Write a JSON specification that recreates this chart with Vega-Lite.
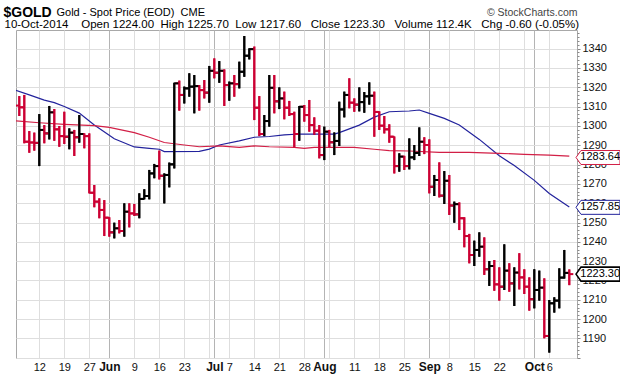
{
  "$schema": "https://vega.github.io/schema/vega-lite/v6.json",
  "width": 561,
  "height": 328,
  "autosize": {"type": "none"},
  "padding": {"left": 16, "top": 30, "right": 43, "bottom": 18},
  "background": "white",
  "config": {
    "font": "Liberation Sans",
    "view": {"stroke": "#a8a8a8", "strokeWidth": 1},
    "axis": {"labelFont": "Liberation Sans", "titleFont": "Liberation Sans"}
  },
  "datasets": {
    "bars": [
      {"d":"2014-05-06","i":-4,"o":1310.5,"h":1315.4,"l":1305.1,"c":1309.6},
      {"d":"2014-05-07","i":-3,"o":1309.6,"h":1316.0,"l":1291.0,"c":1291.8},
      {"d":"2014-05-08","i":-2,"o":1291.8,"h":1297.3,"l":1286.1,"c":1291.4},
      {"d":"2014-05-09","i":-1,"o":1291.4,"h":1296.5,"l":1287.2,"c":1291.2},
      {"d":"2014-05-12","i":0,"o":1291.2,"h":1306.1,"l":1279.2,"c":1297.9},
      {"d":"2014-05-13","i":1,"o":1297.9,"h":1300.4,"l":1291.0,"c":1296.1},
      {"d":"2014-05-14","i":2,"o":1296.1,"h":1310.3,"l":1293.0,"c":1307.0},
      {"d":"2014-05-15","i":3,"o":1307.0,"h":1308.7,"l":1292.3,"c":1298.2},
      {"d":"2014-05-16","i":4,"o":1298.2,"h":1299.9,"l":1289.2,"c":1294.7},
      {"d":"2014-05-19","i":5,"o":1294.7,"h":1307.3,"l":1290.6,"c":1294.4},
      {"d":"2014-05-20","i":6,"o":1294.4,"h":1298.7,"l":1287.9,"c":1296.5},
      {"d":"2014-05-21","i":7,"o":1296.5,"h":1297.9,"l":1284.4,"c":1294.1},
      {"d":"2014-05-22","i":8,"o":1294.1,"h":1305.6,"l":1291.3,"c":1295.8},
      {"d":"2014-05-23","i":9,"o":1295.8,"h":1296.1,"l":1288.4,"c":1294.7},
      {"d":"2014-05-27","i":10,"o":1294.7,"h":1296.1,"l":1265.1,"c":1265.4},
      {"d":"2014-05-28","i":11,"o":1265.4,"h":1269.4,"l":1257.9,"c":1260.8},
      {"d":"2014-05-29","i":12,"o":1260.8,"h":1262.5,"l":1252.2,"c":1256.5},
      {"d":"2014-05-30","i":13,"o":1256.5,"h":1261.6,"l":1243.0,"c":1252.5},
      {"d":"2014-06-02","i":14,"o":1252.5,"h":1252.7,"l":1242.7,"c":1244.9},
      {"d":"2014-06-03","i":15,"o":1244.9,"h":1249.9,"l":1241.8,"c":1247.0},
      {"d":"2014-06-04","i":16,"o":1247.0,"h":1251.3,"l":1244.4,"c":1245.6},
      {"d":"2014-06-05","i":17,"o":1245.6,"h":1259.9,"l":1242.7,"c":1255.6},
      {"d":"2014-06-06","i":18,"o":1255.6,"h":1259.9,"l":1247.5,"c":1254.7},
      {"d":"2014-06-09","i":19,"o":1254.7,"h":1259.6,"l":1253.4,"c":1254.2},
      {"d":"2014-06-10","i":20,"o":1254.2,"h":1265.1,"l":1252.2,"c":1262.2},
      {"d":"2014-06-11","i":21,"o":1262.2,"h":1267.2,"l":1262.0,"c":1263.7},
      {"d":"2014-06-12","i":22,"o":1263.7,"h":1277.2,"l":1262.0,"c":1275.4},
      {"d":"2014-06-13","i":23,"o":1275.4,"h":1280.3,"l":1272.9,"c":1279.2},
      {"d":"2014-06-16","i":24,"o":1279.2,"h":1287.2,"l":1272.3,"c":1274.2},
      {"d":"2014-06-17","i":25,"o":1274.2,"h":1275.4,"l":1259.9,"c":1274.6},
      {"d":"2014-06-18","i":26,"o":1274.6,"h":1281.0,"l":1268.2,"c":1280.1},
      {"d":"2014-06-19","i":27,"o":1280.1,"h":1322.3,"l":1278.0,"c":1322.0},
      {"d":"2014-06-20","i":28,"o":1322.0,"h":1323.4,"l":1307.9,"c":1316.0},
      {"d":"2014-06-23","i":29,"o":1316.0,"h":1320.3,"l":1311.6,"c":1319.4},
      {"d":"2014-06-24","i":30,"o":1319.4,"h":1327.2,"l":1315.1,"c":1320.3},
      {"d":"2014-06-25","i":31,"o":1320.3,"h":1326.3,"l":1306.5,"c":1320.6},
      {"d":"2014-06-26","i":32,"o":1320.6,"h":1321.1,"l":1307.9,"c":1318.5},
      {"d":"2014-06-27","i":33,"o":1318.5,"h":1323.7,"l":1314.2,"c":1317.2},
      {"d":"2014-06-30","i":34,"o":1317.2,"h":1331.0,"l":1312.0,"c":1328.5},
      {"d":"2014-07-01","i":35,"o":1328.5,"h":1334.9,"l":1324.6,"c":1327.5},
      {"d":"2014-07-02","i":36,"o":1327.5,"h":1333.5,"l":1322.3,"c":1328.5},
      {"d":"2014-07-03","i":37,"o":1328.5,"h":1329.2,"l":1310.3,"c":1321.1},
      {"d":"2014-07-07","i":38,"o":1321.1,"h":1322.9,"l":1313.0,"c":1322.0},
      {"d":"2014-07-08","i":39,"o":1322.0,"h":1326.3,"l":1315.1,"c":1321.6},
      {"d":"2014-07-09","i":40,"o":1321.6,"h":1333.2,"l":1319.4,"c":1328.0},
      {"d":"2014-07-10","i":41,"o":1328.0,"h":1346.5,"l":1325.4,"c":1336.3},
      {"d":"2014-07-11","i":42,"o":1336.3,"h":1340.1,"l":1334.4,"c":1339.7},
      {"d":"2014-07-14","i":43,"o":1339.7,"h":1341.0,"l":1303.0,"c":1309.4},
      {"d":"2014-07-15","i":44,"o":1309.4,"h":1315.4,"l":1294.7,"c":1295.8},
      {"d":"2014-07-16","i":45,"o":1295.8,"h":1305.6,"l":1294.7,"c":1302.5},
      {"d":"2014-07-17","i":46,"o":1302.5,"h":1326.3,"l":1299.6,"c":1319.7},
      {"d":"2014-07-18","i":47,"o":1319.7,"h":1326.3,"l":1306.5,"c":1312.7},
      {"d":"2014-07-21","i":48,"o":1312.7,"h":1319.9,"l":1308.7,"c":1314.2},
      {"d":"2014-07-22","i":49,"o":1314.2,"h":1317.7,"l":1303.4,"c":1309.4},
      {"d":"2014-07-23","i":50,"o":1309.4,"h":1312.9,"l":1305.1,"c":1306.1},
      {"d":"2014-07-24","i":51,"o":1306.1,"h":1307.3,"l":1288.9,"c":1295.8},
      {"d":"2014-07-25","i":52,"o":1295.8,"h":1310.3,"l":1292.3,"c":1309.9},
      {"d":"2014-07-28","i":53,"o":1309.9,"h":1310.8,"l":1302.2,"c":1305.6},
      {"d":"2014-07-29","i":54,"o":1305.6,"h":1313.4,"l":1297.0,"c":1300.4},
      {"d":"2014-07-30","i":55,"o":1300.4,"h":1304.4,"l":1295.3,"c":1297.5},
      {"d":"2014-07-31","i":56,"o":1297.5,"h":1300.4,"l":1283.2,"c":1284.9},
      {"d":"2014-08-01","i":57,"o":1284.9,"h":1299.6,"l":1282.3,"c":1297.0},
      {"d":"2014-08-04","i":58,"o":1297.0,"h":1297.9,"l":1288.9,"c":1291.5},
      {"d":"2014-08-05","i":59,"o":1291.5,"h":1296.6,"l":1284.9,"c":1292.2},
      {"d":"2014-08-06","i":60,"o":1292.2,"h":1312.5,"l":1289.6,"c":1308.5},
      {"d":"2014-08-07","i":61,"o":1308.5,"h":1317.7,"l":1304.4,"c":1316.0},
      {"d":"2014-08-08","i":62,"o":1316.0,"h":1324.6,"l":1309.1,"c":1312.0},
      {"d":"2014-08-11","i":63,"o":1312.0,"h":1314.2,"l":1307.3,"c":1311.0},
      {"d":"2014-08-12","i":64,"o":1311.0,"h":1319.9,"l":1307.5,"c":1312.3},
      {"d":"2014-08-13","i":65,"o":1312.3,"h":1317.5,"l":1306.8,"c":1315.3},
      {"d":"2014-08-14","i":66,"o":1315.3,"h":1322.5,"l":1311.0,"c":1315.6},
      {"d":"2014-08-15","i":67,"o":1315.6,"h":1317.7,"l":1294.4,"c":1307.2},
      {"d":"2014-08-18","i":68,"o":1307.2,"h":1307.5,"l":1297.9,"c":1300.1},
      {"d":"2014-08-19","i":69,"o":1300.1,"h":1305.1,"l":1296.1,"c":1298.2},
      {"d":"2014-08-20","i":70,"o":1298.2,"h":1300.8,"l":1291.3,"c":1294.4},
      {"d":"2014-08-21","i":71,"o":1294.4,"h":1294.5,"l":1275.4,"c":1279.2},
      {"d":"2014-08-22","i":72,"o":1279.2,"h":1285.8,"l":1276.3,"c":1284.1},
      {"d":"2014-08-25","i":73,"o":1284.1,"h":1284.5,"l":1277.2,"c":1279.2},
      {"d":"2014-08-26","i":74,"o":1279.2,"h":1293.5,"l":1277.5,"c":1283.7},
      {"d":"2014-08-27","i":75,"o":1283.7,"h":1290.1,"l":1282.3,"c":1286.0},
      {"d":"2014-08-28","i":76,"o":1286.0,"h":1299.2,"l":1284.4,"c":1291.8},
      {"d":"2014-08-29","i":77,"o":1291.8,"h":1294.1,"l":1285.4,"c":1290.1},
      {"d":"2014-09-02","i":78,"o":1290.1,"h":1293.0,"l":1265.1,"c":1268.5},
      {"d":"2014-09-03","i":79,"o":1268.5,"h":1274.6,"l":1263.7,"c":1272.0},
      {"d":"2014-09-04","i":80,"o":1272.0,"h":1281.1,"l":1263.0,"c":1263.9},
      {"d":"2014-09-05","i":81,"o":1263.9,"h":1276.6,"l":1259.6,"c":1271.6},
      {"d":"2014-09-08","i":82,"o":1271.6,"h":1274.6,"l":1253.9,"c":1258.8},
      {"d":"2014-09-09","i":83,"o":1258.8,"h":1260.8,"l":1249.9,"c":1259.5},
      {"d":"2014-09-10","i":84,"o":1259.5,"h":1260.4,"l":1246.1,"c":1252.2},
      {"d":"2014-09-11","i":85,"o":1252.2,"h":1252.7,"l":1237.2,"c":1243.0},
      {"d":"2014-09-12","i":86,"o":1243.0,"h":1244.1,"l":1228.9,"c":1233.2},
      {"d":"2014-09-15","i":87,"o":1233.2,"h":1240.6,"l":1227.5,"c":1235.8},
      {"d":"2014-09-16","i":88,"o":1235.8,"h":1244.9,"l":1232.3,"c":1237.5},
      {"d":"2014-09-17","i":89,"o":1237.5,"h":1242.3,"l":1222.9,"c":1225.8},
      {"d":"2014-09-18","i":90,"o":1225.8,"h":1230.1,"l":1217.2,"c":1227.5},
      {"d":"2014-09-19","i":91,"o":1227.5,"h":1230.6,"l":1214.7,"c":1218.0},
      {"d":"2014-09-22","i":92,"o":1218.0,"h":1226.8,"l":1209.6,"c":1216.8},
      {"d":"2014-09-23","i":93,"o":1216.8,"h":1238.7,"l":1215.1,"c":1225.1},
      {"d":"2014-09-24","i":94,"o":1225.1,"h":1228.9,"l":1214.2,"c":1218.5},
      {"d":"2014-09-25","i":95,"o":1218.5,"h":1226.8,"l":1206.8,"c":1224.1},
      {"d":"2014-09-26","i":96,"o":1224.1,"h":1234.1,"l":1215.4,"c":1221.6},
      {"d":"2014-09-29","i":97,"o":1221.6,"h":1225.8,"l":1213.0,"c":1216.8},
      {"d":"2014-09-30","i":98,"o":1216.8,"h":1221.6,"l":1204.4,"c":1210.3},
      {"d":"2014-10-01","i":99,"o":1210.3,"h":1225.8,"l":1205.6,"c":1215.1},
      {"d":"2014-10-02","i":100,"o":1215.1,"h":1225.1,"l":1209.6,"c":1216.3},
      {"d":"2014-10-03","i":101,"o":1216.3,"h":1221.1,"l":1190.1,"c":1191.3},
      {"d":"2014-10-06","i":102,"o":1191.3,"h":1209.9,"l":1182.7,"c":1208.2},
      {"d":"2014-10-07","i":103,"o":1208.2,"h":1211.3,"l":1203.4,"c":1209.6},
      {"d":"2014-10-08","i":104,"o":1209.6,"h":1226.3,"l":1205.6,"c":1221.5},
      {"d":"2014-10-09","i":105,"o":1221.5,"h":1235.8,"l":1221.0,"c":1223.9},
      {"d":"2014-10-10","i":106,"o":1224.0,"h":1225.7,"l":1217.6,"c":1223.3}
    ],
    "ma": [
      {"s":"MA(50)","i":-5,"v":1318.6},{"s":"MA(50)","i":-2,"v":1316.0},{"s":"MA(50)","i":1,"v":1313.3},
      {"s":"MA(50)","i":3,"v":1312.0},{"s":"MA(50)","i":5,"v":1310.0},{"s":"MA(50)","i":8,"v":1306.6},
      {"s":"MA(50)","i":11,"v":1300.5},{"s":"MA(50)","i":15,"v":1293.3},{"s":"MA(50)","i":19,"v":1289.1},
      {"s":"MA(50)","i":22,"v":1288.4},{"s":"MA(50)","i":24,"v":1287.9},{"s":"MA(50)","i":25,"v":1286.7},
      {"s":"MA(50)","i":32,"v":1286.8},{"s":"MA(50)","i":34,"v":1288.0},{"s":"MA(50)","i":36,"v":1290.1},
      {"s":"MA(50)","i":40,"v":1292.2},{"s":"MA(50)","i":43,"v":1294.1},{"s":"MA(50)","i":46,"v":1294.5},
      {"s":"MA(50)","i":49,"v":1295.3},{"s":"MA(50)","i":52,"v":1295.8},{"s":"MA(50)","i":59,"v":1295.7},
      {"s":"MA(50)","i":60,"v":1296.5},{"s":"MA(50)","i":64,"v":1300.4},{"s":"MA(50)","i":67,"v":1304.5},
      {"s":"MA(50)","i":70,"v":1307.3},{"s":"MA(50)","i":74,"v":1307.7},{"s":"MA(50)","i":76,"v":1308.2},
      {"s":"MA(50)","i":78,"v":1306.5},{"s":"MA(50)","i":81,"v":1303.9},{"s":"MA(50)","i":84,"v":1300.5},
      {"s":"MA(50)","i":88,"v":1293.0},{"s":"MA(50)","i":92,"v":1284.5},{"s":"MA(50)","i":95,"v":1279.5},
      {"s":"MA(50)","i":99,"v":1271.8},{"s":"MA(50)","i":102,"v":1265.0},{"s":"MA(50)","i":106,"v":1258.0},
      {"s":"MA(200)","i":-5,"v":1302.6},{"s":"MA(200)","i":0,"v":1301.6},{"s":"MA(200)","i":5,"v":1300.8},
      {"s":"MA(200)","i":11,"v":1300.1},{"s":"MA(200)","i":14,"v":1299.2},{"s":"MA(200)","i":19,"v":1296.5},
      {"s":"MA(200)","i":22,"v":1294.1},{"s":"MA(200)","i":25,"v":1291.4},{"s":"MA(200)","i":29,"v":1290.1},
      {"s":"MA(200)","i":32,"v":1289.2},{"s":"MA(200)","i":36,"v":1289.6},{"s":"MA(200)","i":40,"v":1288.9},
      {"s":"MA(200)","i":43,"v":1289.6},{"s":"MA(200)","i":46,"v":1289.2},{"s":"MA(200)","i":51,"v":1288.9},
      {"s":"MA(200)","i":53,"v":1288.4},{"s":"MA(200)","i":55,"v":1288.9},{"s":"MA(200)","i":63,"v":1288.9},
      {"s":"MA(200)","i":67,"v":1287.9},{"s":"MA(200)","i":70,"v":1287.2},{"s":"MA(200)","i":74,"v":1287.0},
      {"s":"MA(200)","i":80,"v":1286.3},{"s":"MA(200)","i":86,"v":1286.3},{"s":"MA(200)","i":92,"v":1285.8},
      {"s":"MA(200)","i":97,"v":1285.3},{"s":"MA(200)","i":102,"v":1284.9},{"s":"MA(200)","i":106,"v":1284.3}
    ],
    "tags": [
      {"s":"MA(200)","i":106,"v":1283.64},
      {"s":"MA(50)","i":106,"v":1257.85},
      {"s":"Close","i":106,"v":1223.30}
    ]
  },
  "layer": [
    {
      "data": {"name": "bars"},
      "mark": {"type": "rule", "strokeWidth": 2, "clip": true},
      "encoding": {
        "x": {"field": "i", "type": "quantitative",
          "scale": {"domain": [-4.66, 107.54], "nice": false, "zero": false},
          "axis": {
            "orient": "bottom",
            "values": [0,5,10,14,19,24,29,34,35,38,43,48,53,57,58,63,68,73,78,82,87,92,97,99,102],
            "labelExpr": "datum.value===0?'12':datum.value===5?'19':datum.value===10?'27':datum.value===14?'Jun':datum.value===19?'9':datum.value===24?'16':datum.value===29?'23':datum.value===35?'Jul':datum.value===38?'7':datum.value===43?'14':datum.value===48?'21':datum.value===53?'28':datum.value===57?'Aug':datum.value===63?'11':datum.value===68?'18':datum.value===73?'25':datum.value===78?'Sep':datum.value===82?'8':datum.value===87?'15':datum.value===92?'22':datum.value===99?'Oct':datum.value===102?'6':''",
            "labelFontWeight": {"condition": {"test": "datum.value===14||datum.value===35||datum.value===57||datum.value===78||datum.value===99", "value": "bold"}, "value": "normal"},
            "labelFontSize": {"condition": {"test": "datum.value===14||datum.value===35||datum.value===57||datum.value===78||datum.value===99", "value": 12}, "value": 11},
            "labelColor": "#111111",
            "labelPadding": 3,
            "labelFlush": false,
            "labelOverlap": false,
            "labelBound": false,
            "grid": true,
            "gridColor": {"condition": {"test": "datum.value===14||datum.value===35||datum.value===57||datum.value===78||datum.value===99", "value": "#b4b4b4"}, "value": "#dedede"},
            "ticks": false,
            "domain": false,
            "title": "10-Oct-2014\u00a0\u00a0\u00a0\u00a0Open\u00a01224.00\u00a0\u00a0High\u00a01225.70\u00a0\u00a0Low\u00a01217.60\u00a0\u00a0\u00a0Close\u00a01223.30\u00a0\u00a0\u00a0Volume\u00a0112.4K\u00a0\u00a0\u00a0Chg\u00a0-0.60\u00a0(-0.05%)",
            "titleX": -12,
            "titleY": -331,
            "titleAlign": "left",
            "titleAnchor": "start",
            "titleBaseline": "alphabetic",
            "titleFontSize": 11.5,
            "titleFontWeight": "normal",
            "titleColor": "#000000"
          }
        },
        "y": {"field": "l", "type": "quantitative",
          "scale": {"domain": [1179.9, 1349.6], "nice": false, "zero": false},
          "axis": {
            "orient": "right",
            "format": "d",
            "values": [1180,1182,1184,1186,1188,1190,1192,1194,1196,1198,1200,1202,1204,1206,1208,1210,1212,1214,1216,1218,1220,1222,1224,1226,1228,1230,1232,1234,1236,1238,1240,1242,1244,1246,1248,1250,1252,1254,1256,1258,1260,1262,1264,1266,1268,1270,1272,1274,1276,1278,1280,1282,1284,1286,1288,1290,1292,1294,1296,1298,1300,1302,1304,1306,1308,1310,1312,1314,1316,1318,1320,1322,1324,1326,1328,1330,1332,1334,1336,1338,1340,1342,1344,1346,1348],
            "labelExpr": "datum.value >= 1190 && datum.value <= 1340 && datum.value % 10 === 0 ? datum.label : ''",
            "labelFontSize": 11,
            "labelColor": "#111111",
            "labelPadding": 2,
            "labelFlush": false,
            "labelOverlap": false,
            "labelBound": false,
            "grid": true,
            "gridColor": "#dedede",
            "gridOpacity": {"condition": {"test": "datum.value % 10 === 0", "value": 1}, "value": 0},
            "ticks": true,
            "tickColor": "#888888",
            "tickSize": {"condition": {"test": "datum.value % 10 === 0", "value": 3}, "value": 2},
            "domain": false,
            "title": "\u00a9 StockCharts.com",
            "titleAngle": 0,
            "titleX": 0,
            "titleY": -15,
            "titleAlign": "right",
            "titleAnchor": "start",
            "titleBaseline": "alphabetic",
            "titleFontSize": 10.5,
            "titleFontWeight": "normal",
            "titleColor": "#444444"
          }
        },
        "y2": {"field": "h"},
        "color": {"condition": {"test": "datum.c >= datum.o", "value": "#000000"}, "value": "#cc0033"}
      }
    },
    {
      "data": {"name": "ma"},
      "mark": {"type": "line", "strokeWidth": 1.2, "clip": true},
      "encoding": {
        "x": {"field": "i", "type": "quantitative", "axis": null},
        "y": {"field": "v", "type": "quantitative", "axis": null},
        "color": {"field": "s", "type": "nominal", "legend": null,
          "scale": {"domain": ["MA(50)", "MA(200)"], "range": ["#22229c", "#d21f46"]}}
      }
    },
    {
      "data": {"name": "bars"},
      "mark": {"type": "rule", "strokeWidth": 2, "clip": true},
      "encoding": {
        "x": {"field": "i", "type": "quantitative", "axis": null},
        "y": {"field": "l", "type": "quantitative", "axis": null},
        "y2": {"field": "h"},
        "color": {"condition": {"test": "datum.c >= datum.o", "value": "#000000"}, "value": "#cc0033"}
      }
    },
    {
      "data": {"name": "bars"},
      "mark": {"type": "rule", "strokeWidth": 2, "clip": true, "xOffset": -4},
      "encoding": {
        "x": {"field": "i", "type": "quantitative", "axis": null},
        "x2": {"field": "i"},
        "y": {"field": "o", "type": "quantitative", "axis": null},
        "color": {"condition": {"test": "datum.c >= datum.o", "value": "#000000"}, "value": "#cc0033"}
      }
    },
    {
      "data": {"name": "bars"},
      "mark": {"type": "rule", "strokeWidth": 2, "clip": true, "x2Offset": 4},
      "encoding": {
        "x": {"field": "i", "type": "quantitative", "axis": null},
        "x2": {"field": "i"},
        "y": {"field": "c", "type": "quantitative", "axis": null},
        "color": {"condition": {"test": "datum.c >= datum.o", "value": "#000000"}, "value": "#cc0033"}
      }
    },
    {
      "data": {"name": "tags"},
      "mark": {"type": "point", "shape": "M-1,0L-0.773,-0.318L1,-0.318L1,0.318L-0.773,0.318Z", "size": 1936, "filled": true, "fill": "white", "opacity": 1, "xOffset": 28.7},
      "encoding": {
        "x": {"field": "i", "type": "quantitative", "axis": null},
        "y": {"field": "v", "type": "quantitative", "axis": null},
        "stroke": {"field": "s", "type": "nominal", "legend": null,
          "scale": {"domain": ["MA(200)", "MA(50)", "Close"], "range": ["#d21f46", "#22229c", "#000000"]}},
        "strokeWidth": {"condition": {"test": "datum.s === 'Close'", "value": 1.6}, "value": 1}
      }
    },
    {
      "data": {"name": "tags"},
      "mark": {"type": "text", "align": "left", "baseline": "middle", "dx": 11, "fontSize": 11, "color": "#000000"},
      "encoding": {
        "x": {"field": "i", "type": "quantitative", "axis": null},
        "y": {"field": "v", "type": "quantitative", "axis": null},
        "text": {"field": "v", "type": "quantitative", "format": ".2f"},
        "fontWeight": {"condition": {"test": "datum.s === 'Close'", "value": "bold"}, "value": "normal"}
      }
    },
    {
      "data": {"name": "tags"},
      "mark": {"type": "rule", "opacity": 0},
      "encoding": {
        "x": {"field": "i", "type": "quantitative",
          "axis": {
            "orient": "top", "domain": false, "ticks": false, "labels": false, "grid": false,
            "title": "Gold - Spot Price (EOD)\u00a0\u00a0CME",
            "titleX": 40, "titleY": -15, "titleAlign": "left", "titleAnchor": "start",
            "titleBaseline": "alphabetic", "titleFontSize": 11, "titleFontWeight": "normal", "titleColor": "#000000"
          }
        }
      }
    },
    {
      "data": {"name": "tags"},
      "mark": {"type": "rule", "opacity": 0},
      "encoding": {
        "y": {"field": "v", "type": "quantitative",
          "axis": {
            "orient": "left", "domain": false, "ticks": false, "labels": false, "grid": false,
            "title": "$GOLD",
            "titleAngle": 0, "titleX": -13, "titleY": -14, "titleAlign": "left", "titleAnchor": "start",
            "titleBaseline": "alphabetic", "titleFontSize": 14, "titleFontWeight": "bold", "titleColor": "#000000"
          }
        }
      }
    }
  ],
  "resolve": {"axis": {"x": "independent", "y": "independent"}}
}
